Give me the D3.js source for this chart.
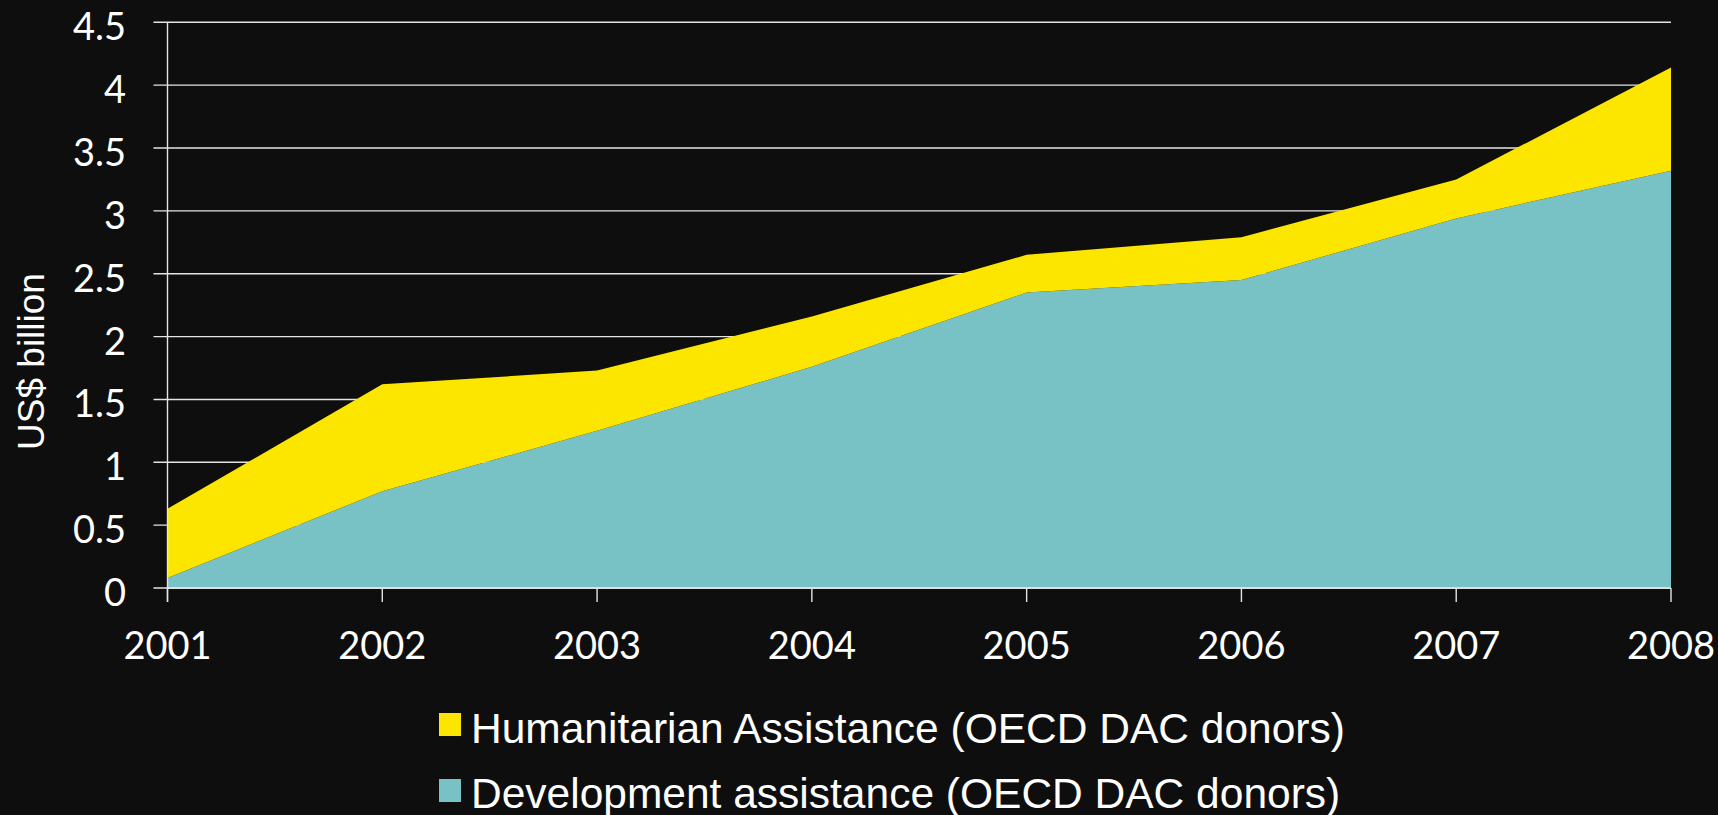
<!DOCTYPE html>
<html>
<head>
<meta charset="utf-8">
<script src="https://cdn.jsdelivr.net/npm/d3@7"></script>
<style>
  html, body { margin: 0; padding: 0; background: #0e0e0e; }
  svg { display: block; }
</style>
</head>
<body>
<svg id="chart" width="1718" height="815"></svg>
<script>
const years = [2001, 2002, 2003, 2004, 2005, 2006, 2007, 2008];
const development = [0.08, 0.77, 1.25, 1.76, 2.35, 2.45, 2.94, 3.32];
const humanitarian = [0.55, 0.85, 0.48, 0.40, 0.30, 0.34, 0.31, 0.82];
const yTicks = [0, 0.5, 1, 1.5, 2, 2.5, 3, 3.5, 4, 4.5];
const seriesNames = ["Humanitarian Assistance (OECD DAC donors)", "Development assistance (OECD DAC donors)"];
const seriesColors = ["#fce600", "#78c1c4"];

(function () {
const svg = d3.select("#chart");
const plotLeft = 167.5, plotRight = 1671, plotTop = 22.3, plotBottom = 588;

const x = d3.scaleLinear().domain([2001, 2008]).range([plotLeft, plotRight]);
const y = d3.scaleLinear().domain([0, 4.5]).range([plotBottom, plotTop]);

const rows = years.map((yr, i) => ({ year: yr, dev: development[i], hum: humanitarian[i] }));
const stacked = d3.stack().keys(["dev", "hum"])(rows);

// gridlines
svg.append("g").selectAll("line").data(yTicks).join("line")
  .attr("x1", plotLeft - 14).attr("x2", plotRight)
  .attr("y1", d => y(d)).attr("y2", d => y(d))
  .attr("stroke", "#e4e4e4").attr("stroke-width", 1.4);

const area = d3.area()
  .x(d => x(d.data.year))
  .y0(d => y(d[0]))
  .y1(d => y(d[1]));

const colorByKey = { dev: seriesColors[1], hum: seriesColors[0] };
svg.append("g").selectAll("path").data(stacked).join("path")
  .attr("d", area)
  .attr("fill", d => colorByKey[d.key]);

// y axis line
svg.append("line").attr("x1", plotLeft).attr("x2", plotLeft).attr("y1", plotTop).attr("y2", plotBottom + 14)
  .attr("stroke", "#e4e4e4").attr("stroke-width", 1.4);
// x axis
svg.append("line").attr("x1", plotLeft).attr("x2", plotRight).attr("y1", plotBottom).attr("y2", plotBottom)
  .attr("stroke", "#f0f0f0").attr("stroke-width", 1.6);
svg.append("g").selectAll("line").data(years).join("line")
  .attr("x1", d => x(d)).attr("x2", d => x(d))
  .attr("y1", plotBottom).attr("y2", plotBottom + 14)
  .attr("stroke", "#e4e4e4").attr("stroke-width", 1.4);

// y tick labels
svg.append("g").selectAll("text").data(yTicks).join("text")
  .attr("x", 126).attr("y", d => y(d) + 18)
  .attr("text-anchor", "end")
  .attr("fill", "#ffffff")
  .style("font-family", "Lato, 'Open Sans', sans-serif")
  .style("font-size", "38px")
  .text(d => String(d));

// x tick labels
svg.append("g").selectAll("text").data(years).join("text")
  .attr("x", d => x(d)).attr("y", 659)
  .attr("text-anchor", "middle")
  .attr("fill", "#ffffff")
  .style("font-family", "Lato, 'Open Sans', sans-serif")
  .style("font-size", "38px")
  .text(d => d);

// y axis title
svg.append("text")
  .attr("transform", "translate(43.5,361.5) rotate(-90)")
  .attr("text-anchor", "middle")
  .attr("fill", "#ffffff")
  .style("font-family", "'Liberation Sans', Arial, sans-serif")
  .style("font-size", "37px")
  .text("US$ billion");

// legend
const legend = svg.append("g");
const legRows = seriesNames.map((n, i) => ({ name: n, color: seriesColors[i], i }));
legend.selectAll("rect").data(legRows).join("rect")
  .attr("x", 439).attr("y", d => 713 + d.i * 66)
  .attr("width", 22).attr("height", 23)
  .attr("fill", d => d.color);
legend.selectAll("text").data(legRows).join("text")
  .attr("x", 471).attr("y", d => 743 + d.i * 65)
  .attr("fill", "#ffffff")
  .style("font-family", "'Liberation Sans', Arial, sans-serif")
  .style("font-size", "42.5px")
  .text(d => d.name);
})();
</script>
</body>
</html>
